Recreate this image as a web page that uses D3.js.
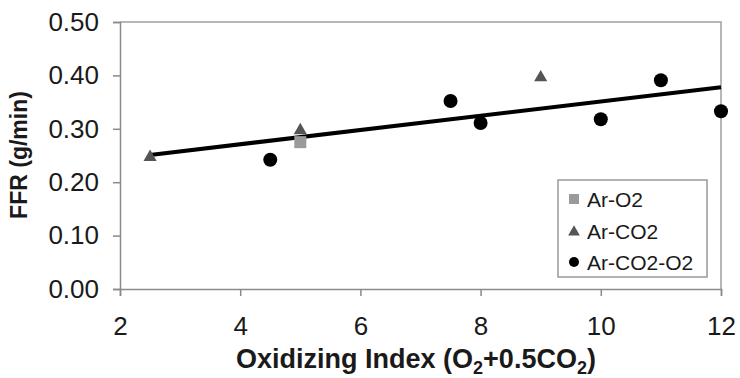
<!DOCTYPE html>
<html>
<head>
<meta charset="utf-8">
<script src="https://cdn.jsdelivr.net/npm/d3@7"></script>
<style>
  body { margin: 0; background: #fff; }
  text { font-family: "Liberation Sans", Arial, sans-serif; }
</style>
</head>
<body>
<div id="chart"></div>
<script>
// Data
var arO2X = [5];
var arO2Y = [0.275];

var arCO2X = [2.5, 5, 9];
var arCO2Y = [0.247, 0.297, 0.396];

var arCO2O2X = [4.5, 7.5, 8, 10, 11, 12];
var arCO2O2Y = [0.242, 0.352, 0.311, 0.318, 0.391, 0.333];

// trend line end points
var trendX = [2.5, 12];
var trendY = [0.251, 0.378];

var xTicks = [2, 4, 6, 8, 10, 12];
var yTicks = [0, 0.1, 0.2, 0.3, 0.4, 0.5];

var seriesNames = ["Ar-O2", "Ar-CO2", "Ar-CO2-O2"];

var svgWidth = 740;
var svgHeight = 378;

var margin = { top: 22, right: 19, bottom: 89, left: 120 };
var width = svgWidth - margin.left - margin.right;
var height = svgHeight - margin.top - margin.bottom;

var svg = d3.select("#chart")
  .append("svg")
  .attr("width", svgWidth)
  .attr("height", svgHeight);

var chartGroup = svg.append("g")
  .attr("transform", `translate(${margin.left}, ${margin.top})`);

var x = d3.scaleLinear().domain([2, 12]).range([0, width]);
var y = d3.scaleLinear().domain([0, 0.5]).range([height, 0]);

var axisColor = "#8a8a8a";

// frame (top and right)
chartGroup.append("path")
  .attr("d", `M0,0H${width}V${height}`)
  .attr("fill", "none")
  .attr("stroke", "#a0a0a0")
  .attr("stroke-width", 1.5);

// axes
var bottomAxis = d3.axisBottom(x).tickValues(xTicks).tickSize(7).tickPadding(21)
  .tickFormat(d3.format("d"));
var leftAxis = d3.axisLeft(y).tickValues(yTicks).tickSize(7).tickPadding(14)
  .tickFormat(d3.format(".2f"));

var gx = chartGroup.append("g")
  .attr("transform", `translate(0, ${height})`)
  .call(bottomAxis);
var gy = chartGroup.append("g").call(leftAxis);

[gx, gy].forEach(function (g) {
  g.select(".domain").attr("stroke", axisColor).attr("stroke-width", 1.5);
  g.selectAll(".tick line").attr("stroke", axisColor).attr("stroke-width", 1.5);
  g.selectAll(".tick text")
    .attr("fill", "#1a1a1a")
    .attr("font-size", "26px")
    .style("font-family", "'Liberation Sans', Arial, sans-serif");
});
gx.selectAll(".tick text").attr("dy", "0.71em");

// trend line
var line = d3.line().x(d => x(d[0])).y(d => y(d[1]));
chartGroup.append("path")
  .datum(trendX.map((v, i) => [v, trendY[i]]))
  .attr("d", line)
  .attr("fill", "none")
  .attr("stroke", "#000")
  .attr("stroke-width", 4);

// markers
var triangle = d3.symbol().type(d3.symbolTriangle).size(75);

chartGroup.selectAll(".sq")
  .data(arO2X.map((v, i) => [v, arO2Y[i]]))
  .enter()
  .append("rect")
  .attr("x", d => x(d[0]) - 6)
  .attr("y", d => y(d[1]) - 6)
  .attr("width", 12)
  .attr("height", 12)
  .attr("fill", "#9a9a9a");

chartGroup.selectAll(".tri")
  .data(arCO2X.map((v, i) => [v, arCO2Y[i]]))
  .enter()
  .append("path")
  .attr("d", triangle)
  .attr("transform", d => `translate(${x(d[0])}, ${y(d[1])})`)
  .attr("fill", "#555");

chartGroup.selectAll(".dot")
  .data(arCO2O2X.map((v, i) => [v, arCO2O2Y[i]]))
  .enter()
  .append("circle")
  .attr("cx", d => x(d[0]))
  .attr("cy", d => y(d[1]))
  .attr("r", 7)
  .attr("fill", "#000");

// legend
var legend = svg.append("g").attr("transform", "translate(558, 180)");
legend.append("rect")
  .attr("width", 149)
  .attr("height", 97)
  .attr("fill", "#fff")
  .attr("stroke", "#999")
  .attr("stroke-width", 1.5);

var rowY = [19, 51, 82];
legend.append("rect").attr("x", 11).attr("y", rowY[0] - 5).attr("width", 10).attr("height", 10).attr("fill", "#9a9a9a");
legend.append("path").attr("d", d3.symbol().type(d3.symbolTriangle).size(60))
  .attr("transform", `translate(16, ${rowY[1] + 1})`).attr("fill", "#555");
legend.append("circle").attr("cx", 16).attr("cy", rowY[2]).attr("r", 5).attr("fill", "#000");

legend.selectAll(".lt")
  .data(seriesNames)
  .enter()
  .append("text")
  .attr("x", 29)
  .attr("y", (d, i) => rowY[i])
  .attr("dy", "0.36em")
  .attr("font-size", "21px")
  .attr("fill", "#1a1a1a")
  .text(d => d);

// axis titles
var xt = svg.append("text")
  .attr("x", 416)
  .attr("y", 368)
  .attr("text-anchor", "middle")
  .attr("font-size", "27px")
  .attr("font-weight", "bold")
  .attr("fill", "#1a1a1a");
xt.append("tspan").text("Oxidizing Index (O");
xt.append("tspan").attr("font-size", "18px").attr("dy", 6).text("2");
xt.append("tspan").attr("dy", -6).text("+0.5CO");
xt.append("tspan").attr("font-size", "18px").attr("dy", 6).text("2");
xt.append("tspan").attr("dy", -6).text(")");

svg.append("text")
  .attr("transform", `translate(27, 155) rotate(-90)`)
  .attr("text-anchor", "middle")
  .attr("font-size", "23px")
  .attr("font-weight", "bold")
  .attr("fill", "#1a1a1a")
  .text("FFR (g/min)");
</script>
</body>
</html>
